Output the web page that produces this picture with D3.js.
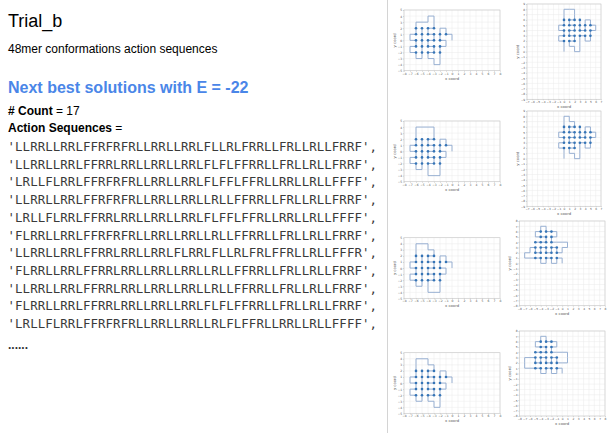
<!DOCTYPE html>
<html>
<head>
<meta charset="utf-8">
<script src="https://cdn.jsdelivr.net/npm/d3@7"></script>
<style>
  html, body { margin: 0; padding: 0; background: #fff; }
  svg { display: block; }
</style>
</head>
<body>
<div id="chart"></div>
<script>
// ---- data ----
const title = "Trial_b";
const subtitle = "48mer conformations action sequences";
const heading = "Next best solutions with E = -22";
const solutionCount = 17;

// action sequences printed on the slide (first 11 of 17)
const actionSequences = [
  "LLRRLLRRLFFRFRFRLLRRLLRRLFLLRLFRRLLFRLLRLLFRRF",
  "LLRRLLRRLFFRRLRRLLRRLLRRLFLFLFFRRLLFRLLRLLFRRF",
  "LRLLFLRRLFFRFRFRLLRRLLRRLFLFFLFFRLLRRLLRLLFFFF",
  "LLRRLLRRLFFRFRFRLLRRLLRRLLRLLFFRRLLFRLLRLLFRRF",
  "LRLLFLRRLFFRRLRRLLRRLLRRLFLFFLFFRLLRRLLRLLFFFF",
  "FLRRLLRRLFFRFRFRLLRRLLRRLLRLLFFRRLLFRLLRLLFRRF",
  "LLRRLLRRLFFRRLRRLLRRLFLRRLFLLRLFRLFFRLLRLLFFFR",
  "FLRRLLRRLFFRRLRRLLRRLLRRLLRLLFFRRLLFRLLRLLFRRF",
  "LLRRLLRRLFFRRLRRLLRRLLRRLLRLLFFRRLLFRLLRLLFRRF",
  "FLRRLLRRLFFRRLRRLLRRLLRRLFLFLFFRRLLFRLLRLLFRRF",
  "LRLLFLRRLFFRFRFRLLRRLLRRLLRLFLFFRLLRRLLRLLFFFF"
];

// HP sequence of the 48mer (H residues are drawn as dots)
const hpSequence = "PPHPPHHPPHHPPPPPHHHHHHHHHHPPPPPPHHPPHHPPHPPHHHHH";

// conformations shown in the thumbnails: left column top->bottom, then right column
const panelActions = [
  "LRLLFLRRLFFRRLRRLLRRLLRRLFLLRFLFRLLRRLLRLLFFFF",
  "LRLLFLRRLFFRFRFRLLRRLLRRLFLFFLFFRLLRRLLRLLFFFF",
  "LRLLFLRRLFFRFRFRLLRRLLRRLLRLFLFFRLLRRLLRLLFFFF",
  "LRLLFLRRLFFRRLRRLLRRLLRRLLRLFLFFRLLRRLLRLLFFFF",
  "FLRRLLRRLFFRFRFRLLRRLLRRLLRLLFFRRLLFRLLRLLFRRF",
  "FLRRLLRRLFFRRLRRLLRRLLRRLLRLLFFRRLLFRLLRLLFRRF",
  "LLRRLLRRLFFRRLRRLLRRLLRRLLRLLFFRRLLFRLLRLLFRRF",
  "LLRRLLRRLFFRFRFRLLRRLLRRLFLFLFFRRLLFRLLRLLFRRF"
];
const panelXDomains = [[-8, 8], [-8, 8], [-8, 8], [-8, 8], [-7, 7], [-7, 7], [-8, 8], [-8, 8]];
const panelYDomains = [[-5, 5], [-5, 5], [-5, 5], [-5, 5], [-9, 9], [-9, 9], [-8, 8], [-8, 8]];

// ---- layout ----
const width = 616, height = 435;
const panelBoxes = [
  {left: 404, right: 500, top: 10, bottom: 70.7},
  {left: 404, right: 500, top: 121, bottom: 181.7},
  {left: 404, right: 500, top: 237.7, bottom: 298.4},
  {left: 404, right: 500, top: 352.7, bottom: 413.4},
  {left: 527, right: 601, top: 4, bottom: 99.3},
  {left: 527, right: 601, top: 111, bottom: 206.3},
  {left: 519.3, right: 605, top: 221, bottom: 305.7},
  {left: 519.3, right: 605, top: 331, bottom: 416}
];

const svg = d3.select("#chart")
  .append("svg")
    .attr("width", width)
    .attr("height", height)
    .style("font-family", "'Liberation Sans', Arial, sans-serif");

// ---- left text block ----
svg.append("text")
  .attr("x", 8).attr("y", 26.5)
  .attr("font-size", 18)
  .attr("fill", "#000")
  .text(title);

svg.append("text")
  .attr("x", 8).attr("y", 52.5)
  .attr("font-size", 12)
  .attr("fill", "#000")
  .text(subtitle);

svg.append("text")
  .attr("x", 8).attr("y", 92.5)
  .attr("font-size", 16)
  .attr("font-weight", "bold")
  .attr("fill", "#4a86e8")
  .text(heading);

const countText = svg.append("text")
  .attr("x", 8).attr("y", 115.3)
  .attr("font-size", 12)
  .attr("fill", "#000");
countText.append("tspan").attr("font-weight", "bold").text("# Count");
countText.append("tspan").text(" = " + solutionCount);

const seqHead = svg.append("text")
  .attr("x", 8).attr("y", 131.8)
  .attr("font-size", 12)
  .attr("fill", "#000");
seqHead.append("tspan").attr("font-weight", "bold").text("Action Sequences");
seqHead.append("tspan").text(" =");

const lineStep = 17.7;
svg.append("g")
  .selectAll("text")
  .data(actionSequences)
  .join("text")
    .attr("x", 7.5)
    .attr("y", (d, i) => 151 + i * lineStep)
    .attr("font-family", "'DejaVu Sans Mono', monospace")
    .attr("font-size", 12.4)
    .attr("fill", "#3a3a3a")
    .attr("textLength", 369.5)
    .attr("lengthAdjust", "spacing")
    .text(d => "'" + d + "',");

svg.append("text")
  .attr("x", 8)
  .attr("y", 151 + (actionSequences.length - 1) * lineStep + 21)
  .attr("font-size", 12)
  .attr("font-weight", "bold")
  .attr("fill", "#333")
  .text("......");

// separator of the thumbnail area
svg.append("line")
  .attr("x1", 387.5).attr("x2", 387.5)
  .attr("y1", 0).attr("y2", 433)
  .attr("stroke", "#d4d4d4")
  .attr("stroke-width", 1);

// ---- conformations ----
function fold(actions) {
  // start at origin, first bond pointing up; L/R turn, F go straight
  const dirs = [[1, 0], [0, 1], [-1, 0], [0, -1]];
  let d = 1, px = 0, py = 0;
  const pts = [[0, 0]];
  px += dirs[d][0]; py += dirs[d][1];
  pts.push([px, py]);
  for (const a of actions) {
    if (a === "L") d = (d + 1) % 4;
    else if (a === "R") d = (d + 3) % 4;
    px += dirs[d][0]; py += dirs[d][1];
    pts.push([px, py]);
  }
  return pts;
}

const fmt = d3.format("d");

panelActions.forEach(function(actions, k) {
  const b = panelBoxes[k];
  const xd = panelXDomains[k], yd = panelYDomains[k];
  const x = d3.scaleLinear().domain(xd).range([b.left, b.right]);
  const y = d3.scaleLinear().domain(yd).range([b.bottom, b.top]);
  const xt = d3.range(xd[0], xd[1] + 1);
  const yt = d3.range(yd[0], yd[1] + 1);
  const fs = k < 4 ? 3.0 : 2.9;

  const g = svg.append("g");

  // grid
  g.append("g")
    .selectAll("line")
    .data(xt)
    .join("line")
      .attr("x1", d => x(d)).attr("x2", d => x(d))
      .attr("y1", b.top).attr("y2", b.bottom)
      .attr("stroke", "#ebebeb").attr("stroke-width", 0.5);
  g.append("g")
    .selectAll("line")
    .data(yt)
    .join("line")
      .attr("y1", d => y(d)).attr("y2", d => y(d))
      .attr("x1", b.left).attr("x2", b.right)
      .attr("stroke", "#ebebeb").attr("stroke-width", 0.5);

  // axes
  const ax = g.append("g")
    .attr("transform", `translate(0,${b.bottom})`)
    .call(d3.axisBottom(x).tickValues(xt).tickSize(1).tickPadding(0.8).tickFormat(fmt));
  const ay = g.append("g")
    .attr("transform", `translate(${b.left},0)`)
    .call(d3.axisLeft(y).tickValues(yt).tickSize(1).tickPadding(0.8).tickFormat(fmt));
  [ax, ay].forEach(a => {
    a.select(".domain").remove();
    a.selectAll(".tick line").attr("stroke", "#999").attr("stroke-width", 0.4);
    a.selectAll(".tick text")
      .attr("font-size", fs)
      .attr("font-family", "'DejaVu Sans', sans-serif")
      .attr("fill", "#555");
  });

  g.append("rect")
    .attr("x", b.left).attr("y", b.top)
    .attr("width", b.right - b.left).attr("height", b.bottom - b.top)
    .attr("fill", "none")
    .attr("stroke", "#c8c8c8")
    .attr("stroke-width", 0.6);

  g.append("text")
    .attr("x", (b.left + b.right) / 2)
    .attr("y", b.bottom + 9)
    .attr("text-anchor", "middle")
    .attr("font-size", 3.8)
    .attr("font-family", "'DejaVu Sans', sans-serif")
    .attr("fill", "#555")
    .text("x coord");

  g.append("text")
    .attr("transform", `translate(${b.left - 8},${(b.top + b.bottom) / 2}) rotate(-90)`)
    .attr("text-anchor", "middle")
    .attr("font-size", 3.8)
    .attr("font-family", "'DejaVu Sans', sans-serif")
    .attr("fill", "#555")
    .text("y coord");

  // chain
  const pts = fold(actions);
  g.append("path")
    .datum(pts)
    .attr("fill", "none")
    .attr("stroke", "#8ea9cf")
    .attr("stroke-width", 0.9)
    .attr("d", d3.line().x(p => x(p[0])).y(p => y(p[1])));

  g.append("g")
    .selectAll("circle")
    .data(pts.filter((p, i) => hpSequence[i] === "H"))
    .join("circle")
      .attr("cx", p => x(p[0]))
      .attr("cy", p => y(p[1]))
      .attr("r", 1.3)
      .attr("fill", "#3574b6");
});
</script>
</body>
</html>
